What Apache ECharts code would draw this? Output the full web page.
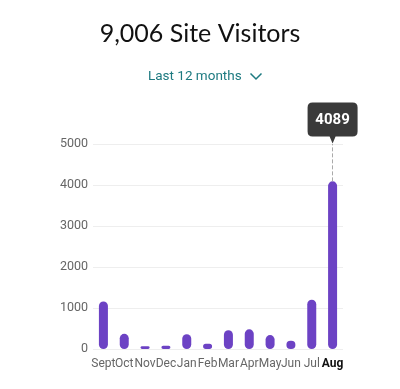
<!DOCTYPE html>
<html><head><meta charset="utf-8">
<script src="https://cdn.jsdelivr.net/npm/echarts@6/dist/echarts.min.js"></script>
<style>html,body{margin:0;padding:0;background:#fff}#c{width:400px;height:389px}</style>
</head><body><div id="c"></div>
<script>
const categories = ['Sept','Oct','Nov','Dec','Jan','Feb','Mar','Apr','May','Jun','Jul','Aug'];
const visitors = [1160, 370, 70, 80, 360, 130, 460, 480, 340, 200, 1200, 4089];
const yTicks = [0, 1000, 2000, 3000, 4000, 5000];
const titleText = '9,006 Site Visitors';
const subtitleText = 'Last 12 months';

const chart = echarts.init(document.getElementById('c'), null, {renderer: 'canvas'});
const last = categories.length - 1;
chart.setOption({
  animation: false,
  title: [{
    text: titleText, left: 'center', top: 16,
    textStyle: {fontFamily: 'Lato', fontWeight: 'normal', fontSize: 25, color: '#111'}
  }, {
    text: subtitleText, left: 143, top: 65,
    textStyle: {fontFamily: 'Roboto', fontWeight: 'normal', fontSize: 13.5, color: '#1d7a80'}
  }],
  graphic: [{
    type: 'polyline', left: 248, top: 71,
    shape: {points: [[0,0],[5.5,5.5],[11,0]]},
    style: {stroke: '#1d7a80', lineWidth: 1.5, fill: null}
  }],
  grid: {left: 93, right: 57, top: 144, bottom: 40},
  xAxis: {
    type: 'category', data: categories,
    axisLine: {show: false}, axisTick: {show: false},
    axisLabel: {
      interval: 0, margin: 9, fontFamily: 'Roboto', fontSize: 12, color: '#666',
      formatter: (v, i) => i === last ? '{b|' + v + '}' : v,
      rich: {b: {fontFamily: 'Roboto', fontSize: 12, fontWeight: 'bold', color: '#111'}}
    }
  },
  yAxis: {
    type: 'value', min: yTicks[0], max: yTicks[yTicks.length - 1], interval: 1000,
    axisLine: {show: false}, axisTick: {show: false},
    axisLabel: {margin: 5, fontFamily: 'Roboto', fontSize: 12.5, color: '#666', formatter: v => String(v)},
    splitLine: {lineStyle: {color: '#eeeeee', width: 1}}
  },
  series: [{
    type: 'bar', data: visitors, barWidth: 9,
    itemStyle: {color: '#6c42c4', borderRadius: 4.5},
    markLine: {
      silent: true, symbol: 'none',
      lineStyle: {type: 'dashed', color: '#aaaaaa', width: 1},
      label: {show: false},
      data: [[{coord: [last, visitors[last]]}, {coord: [last, yTicks[yTicks.length - 1]]}]]
    },
    markPoint: {
      silent: true,
      symbol: 'path://M5,0 H45 Q50,0 50,5 V29 Q50,34 45,34 H28 L25,41 L22,34 H5 Q0,34 0,29 V5 Q0,0 5,0 Z',
      symbolSize: [50, 41], symbolKeepAspect: false,
      symbolOffset: [0, -21],
      itemStyle: {color: '#3a3a3a'},
      label: {show: true, position: 'inside', offset: [0, -3], color: '#fff', fontFamily: 'Roboto', fontWeight: 'bold', fontSize: 15,
        formatter: () => String(visitors[last])},
      data: [{coord: [last, yTicks[yTicks.length - 1]]}]
    }
  }]
});
</script></body></html>
